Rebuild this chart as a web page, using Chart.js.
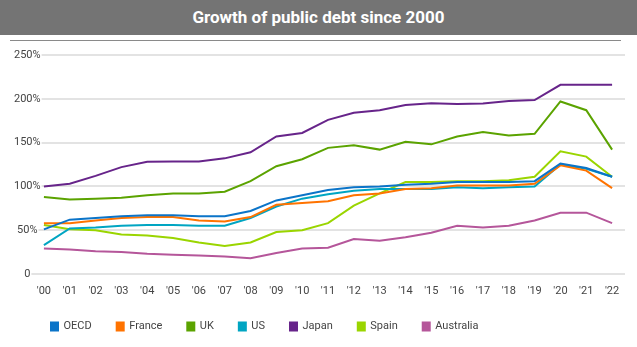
<!DOCTYPE html>
<html>
<head>
<meta charset="utf-8">
<script src="https://cdn.jsdelivr.net/npm/chart.js@4"></script>
<style>
  body { margin: 0; background: #fff; font-family: Roboto, sans-serif; }
  #title { height: 35px; line-height: 35px; background: #747474; color: #fff;
           text-align: center; font-weight: bold; font-size: 17px; }
  #rule { position: absolute; top: 40px; left: 10px; width: 611px; border-top: 1px solid #8a8a8a; }
  #wrap { position: absolute; top: 42px; left: 0; width: 637px; height: 305px; }
</style>
</head>
<body>
<div id="title">Growth of public debt since 2000</div>
<div id="rule"></div>
<div id="wrap"><canvas id="debt"></canvas></div>
<script>
const years = ["'00", "'01", "'02", "'03", "'04", "'05", "'06", "'07", "'08", "'09", "'10", "'11",
  "'12", "'13", "'14", "'15", "'16", "'17", "'18", "'19", "'20", "'21", "'22"];
const oecd = [51, 62, 64, 66, 67, 67, 66, 66, 72, 84, 90, 96, 99, 100, 102, 103, 105, 105, 105, 106, 126, 121, 111];
const france = [58, 58, 61, 64, 65, 65, 61, 60, 65, 79, 81, 83, 90, 92, 97, 98, 101, 101, 101, 103, 124, 118, 98];
const uk = [88, 85, 86, 87, 90, 92, 92, 94, 106, 123, 131, 144, 147, 142, 151, 148, 157, 162, 158, 160, 197, 187, 142];
const us = [33, 52, 53, 55, 56, 56, 55, 55, 64, 77, 86, 91, 95, 97, 97, 97, 99, 98, 99, 100, 125, 120, 111];
const japan = [100, 103, 112, 122, 128, 128.5, 128.5, 132, 139, 157, 161, 176, 184, 187, 193, 195, 194, 194.5, 197.5, 198.5, 216, 216, 216];
const spain = [56, 51, 50, 45, 44, 41, 36, 32, 36, 48, 50, 58, 78, 92, 105, 105, 106, 106, 107, 111, 140, 134, 111];
const australia = [29, 28, 26, 25, 23, 22, 21, 20, 18, 24, 29, 30, 40, 38, 42, 47, 55, 53, 55, 61, 70, 70, 58];
const yTicks = [0, 50, 100, 150, 200, 250];

function line(label, data, color) {
  return { label: label, data: data, borderColor: color, backgroundColor: color,
           borderWidth: 2, pointRadius: 0, tension: 0 };
}

// moves the legend so that it starts at the same place as the original one
const legendShift = {
  id: 'legendShift',
  afterLayout(chart) {
    chart.legend.left = 26;
  }
};

Chart.defaults.font.family = "Roboto, sans-serif";
Chart.defaults.color = "#444";

new Chart(document.getElementById('debt'), {
  type: 'line',
  data: {
    labels: years,
    datasets: [
      line('OECD', oecd, '#0b74c8'),
      line('France', france, '#ff7300'),
      line('UK', uk, '#5ba300'),
      line('US', us, '#00a5c2'),
      line('Japan', japan, '#67248a'),
      line('Spain', spain, '#9ad500'),
      line('Australia', australia, '#b5569a')
    ]
  },
  options: {
    responsive: true,
    maintainAspectRatio: false,
    animation: false,
    layout: { padding: { left: 31, right: 12, top: 13, bottom: 5 } },
    scales: {
      x: {
        offset: true,
        grid: { display: false, drawTicks: false },
        border: { display: false },
        afterFit: (axis) => { axis.height = 22; },
        ticks: { font: { size: 11 }, padding: 11, maxRotation: 0, autoSkip: false }
      },
      y: {
        min: 0,
        max: 250,
        afterBuildTicks: (axis) => { axis.ticks = yTicks.map(v => ({ value: v })); },
        afterFit: (axis) => { axis.width = 0; },
        grid: { color: '#e3e3e3', lineWidth: 2, drawTicks: false },
        border: { display: false },
        ticks: {
          font: { size: 11 },
          mirror: true,
          crossAlign: 'center',
          padding: -17,
          showLabelBackdrop: true,
          backdropColor: '#fff',
          backdropPadding: 1,
          callback: (v) => v === 0 ? '0' : v + '%'
        }
      }
    },
    plugins: {
      legend: {
        position: 'bottom',
        align: 'start',
        labels: { boxWidth: 7, boxHeight: 8, padding: 25, font: { size: 11 } }
      },
      tooltip: { enabled: false }
    }
  },
  plugins: [legendShift]
});
</script>
</body>
</html>
